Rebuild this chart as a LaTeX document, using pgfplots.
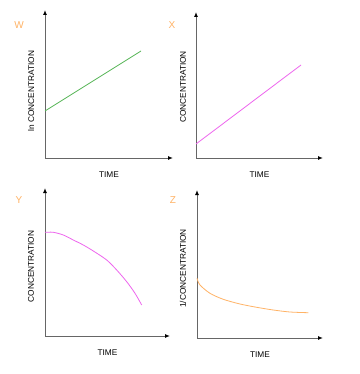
\documentclass[border=0pt]{standalone}
\usepackage{pgfplots}
\pgfplotsset{compat=1.18}
\usepackage{fontspec}
\setmainfont{Liberation Sans}
\usetikzlibrary{arrows.meta}
\definecolor{lbl}{HTML}{FFB366}
\definecolor{lgreen}{HTML}{5CB85C}
\definecolor{lmag}{HTML}{EE66EE}
\definecolor{lorange}{HTML}{FFB366}
\definecolor{axgray}{HTML}{666666}
\pgfplotsset{
  panel/.style={
    x=1pt, y=1pt, anchor=origin, clip=false,
    xmin=0, ymin=0,
    axis lines=left,
    axis line style={color=axgray, line width=1pt, -{Latex[length=5pt,width=4pt,black]}},
    xtick=\empty, ytick=\empty,
    label style={font=\fontsize{8.3}{10}\selectfont, text=black},
    xlabel=TIME,
    xlabel style={at={(axis description cs:0.5,0)}, anchor=center, yshift=-17pt},
  },
}
\begin{document}
\begin{tikzpicture}
\useasboundingbox (0,0) rectangle (359pt,-374pt);
\fill[white] (0,0) rectangle (359pt,-374pt);
% W
\begin{axis}[panel, at={(45pt,-158pt)}, xmax=128, ymax=148,
  ylabel={ln CONCENTRATION},
  ylabel style={at={(axis description cs:-0.109,0.453)}, anchor=center}]
\addplot[lgreen, line width=0.8pt] coordinates {(0,47) (96,107)};
\end{axis}
% X
\begin{axis}[panel, at={(196pt,-158pt)}, xmax=127, ymax=146,
  ylabel={CONCENTRATION},
  ylabel style={at={(axis description cs:-0.102,0.486)}, anchor=center}]
\addplot[lmag, line width=0.8pt] coordinates {(0,14) (105,93)};
\end{axis}
% Y
\begin{axis}[panel, at={(45pt,-336pt)}, xmax=125, ymax=148,
  ylabel={CONCENTRATION},
  ylabel style={at={(axis description cs:-0.112,0.47)}, anchor=center}]
\addplot[lmag, line width=0.8pt, smooth] coordinates {(0,103.7) (8.3,103.7) (18.3,101) (28.3,96) (38.3,91) (48.3,85) (61.7,76) (71.7,66) (81.7,54.3) (90,42.7) (96.7,31)};
\end{axis}
% Z
\begin{axis}[panel, at={(197pt,-338pt)}, xmax=126, ymax=148,
  ylabel={1/CONCENTRATION},
  ylabel style={at={(axis description cs:-0.111,0.47)}, anchor=center}]
\addplot[lorange, line width=0.8pt, smooth] coordinates {(0,59.7) (3,53) (13,44.7) (26.3,38.7) (43,34) (59.7,30.7) (76.3,28) (93,26) (111.3,25.3)};
\end{axis}
\begin{scope}[every node/.style={text=lbl, font=\fontsize{10}{12}\selectfont, anchor=center}]
\node at (19pt,-25pt) {W};
\node at (172pt,-25pt) {X};
\node at (19pt,-200pt) {Y};
\node at (173pt,-200pt) {Z};
\end{scope}
\end{tikzpicture}
\end{document}
